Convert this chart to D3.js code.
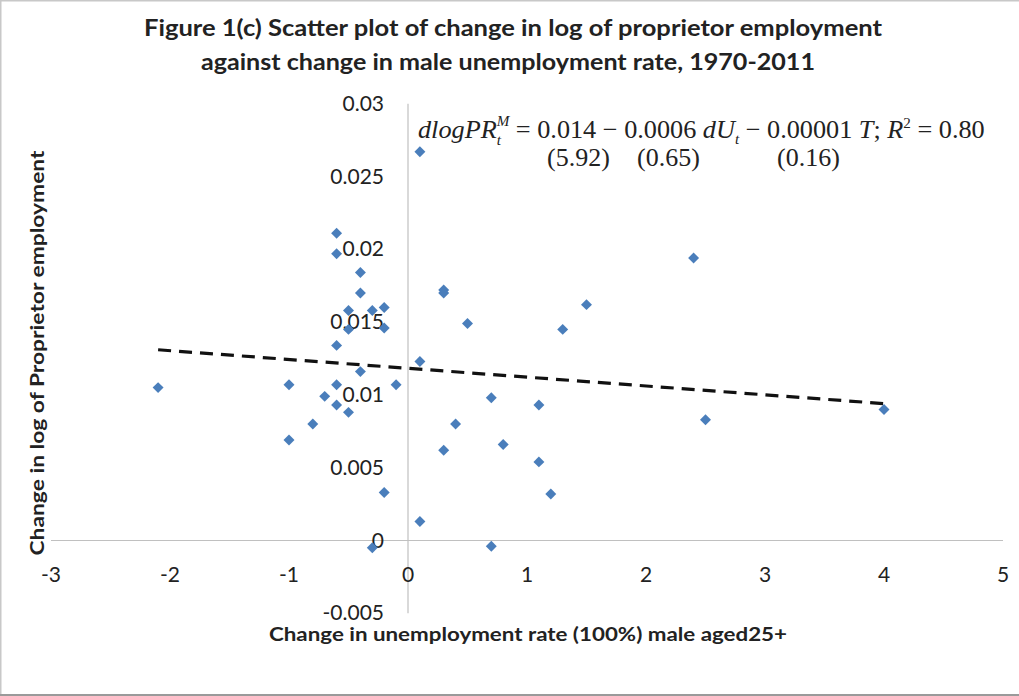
<!DOCTYPE html>
<html>
<head>
<meta charset="utf-8">
<script src="https://cdn.jsdelivr.net/npm/d3@7"></script>
<style>
  body { margin: 0; background: #fff; }
  text { font-family: Lato, "Open Sans", sans-serif; fill: #222; }
</style>
</head>
<body>
<div id="chart"></div>
<script>
var width = 1019,
    height = 696;

// change in male unemployment rate (x) vs change in log proprietor employment (y)
var dU = [-2.1, -1.0, -1.0, -0.8, -0.7, -0.6, -0.6, -0.6, -0.6, -0.6,
          -0.5, -0.5, -0.5, -0.4, -0.4, -0.4, -0.3, -0.3, -0.2, -0.2,
          -0.2, -0.1, 0.1, 0.1, 0.1, 0.3, 0.3, 0.3, 0.4, 0.5,
          0.7, 0.7, 0.8, 1.1, 1.1, 1.2, 1.3, 1.5, 2.4, 2.5, 4.0];
var dlogPR = [0.0105, 0.0107, 0.0069, 0.0080, 0.0099, 0.0211, 0.0197, 0.0134, 0.0107, 0.0093,
              0.0158, 0.0145, 0.0088, 0.0184, 0.0170, 0.0116, 0.0158, -0.0005, 0.0160, 0.0146,
              0.0033, 0.0107, 0.0267, 0.0123, 0.0013, 0.0172, 0.0170, 0.0062, 0.0080, 0.0149,
              0.0098, -0.0004, 0.0066, 0.0093, 0.0054, 0.0032, 0.0145, 0.0162, 0.0194, 0.0083, 0.0090];
// linear trend line end points
var trendX = [-2.1, 4.0];
var trendY = [0.0131, 0.0094];

var xTicks = [-3, -2, -1, 0, 1, 2, 3, 4, 5];
var yTicks = [-0.005, 0, 0.005, 0.01, 0.015, 0.02, 0.025, 0.03];
var yTickLabels = ["-0.005", "0", "0.005", "0.01", "0.015", "0.02", "0.025", "0.03"];

var x = d3.scaleLinear().domain([-3, 5]).range([51, 1003]);
var y = d3.scaleLinear().domain([-0.005, 0.03]).range([613.3, 103.7]);

var svg = d3.select("#chart").append("svg")
    .attr("width", width)
    .attr("height", height);

// chart border (top, left, bottom)
svg.append("line").attr("x1", 0).attr("x2", width).attr("y1", 0.5).attr("y2", 0.5)
    .attr("stroke", "#c8c8c8").attr("stroke-width", 2);
svg.append("line").attr("x1", 0.5).attr("x2", 0.5).attr("y1", 0).attr("y2", height)
    .attr("stroke", "#c8c8c8").attr("stroke-width", 2);
svg.append("line").attr("x1", 0).attr("x2", width).attr("y1", height - 1).attr("y2", height - 1)
    .attr("stroke", "#9a9a9a").attr("stroke-width", 2);

// axes cross at zero
svg.append("line")
    .attr("x1", x(-3)).attr("x2", x(5))
    .attr("y1", y(0)).attr("y2", y(0))
    .attr("stroke", "#c0c0c0").attr("stroke-width", 1.2);
svg.append("line")
    .attr("x1", x(0)).attr("x2", x(0))
    .attr("y1", y(0.03)).attr("y2", y(-0.005))
    .attr("stroke", "#c0c0c0").attr("stroke-width", 1.2);

svg.selectAll(".xtick")
    .data(xTicks)
    .enter().append("text")
    .attr("class", "xtick")
    .attr("x", function(d) { return x(d); })
    .attr("y", y(0) + 41)
    .attr("text-anchor", "middle")
    .style("font-size", "21px")
    .text(function(d) { return d; });

svg.selectAll(".ytick")
    .data(yTicks)
    .enter().append("text")
    .attr("class", "ytick")
    .attr("x", x(0) - 24)
    .attr("y", function(d) { return y(d) + 7; })
    .attr("text-anchor", "end")
    .style("font-size", "21px")
    .text(function(d, i) { return yTickLabels[i]; });

// trend line
svg.append("line")
    .attr("x1", x(trendX[0])).attr("y1", y(trendY[0]))
    .attr("x2", x(trendX[1])).attr("y2", y(trendY[1]))
    .attr("stroke", "#111")
    .attr("stroke-width", 3.2)
    .attr("stroke-dasharray", "13,8");

// points
var diamond = d3.symbol().type(d3.symbolSquare).size(60);
svg.selectAll(".pt")
    .data(dU)
    .enter().append("path")
    .attr("class", "pt")
    .attr("d", diamond)
    .attr("transform", function(d, i) {
        return "translate(" + x(d) + "," + y(dlogPR[i]) + ") rotate(45)";
    })
    .attr("fill", "#4a7ebb");

// titles
var title = ["Figure 1(c) Scatter plot of change in log of proprietor employment",
             "against change in male unemployment rate, 1970-2011"];
svg.append("text")
    .attr("x", 513).attr("y", 36)
    .attr("text-anchor", "middle")
    .attr("textLength", 738).attr("lengthAdjust", "spacingAndGlyphs")
    .style("font-size", "23px").style("font-weight", "bold")
    .text(title[0]);
svg.append("text")
    .attr("x", 508).attr("y", 70)
    .attr("text-anchor", "middle")
    .attr("textLength", 614).attr("lengthAdjust", "spacingAndGlyphs")
    .style("font-size", "23px").style("font-weight", "bold")
    .text(title[1]);

svg.append("text")
    .attr("transform", "translate(44,353) rotate(-90)")
    .attr("text-anchor", "middle")
    .attr("textLength", 405).attr("lengthAdjust", "spacingAndGlyphs")
    .style("font-size", "19px").style("font-weight", "bold")
    .text("Change in log of Proprietor employment");

svg.append("text")
    .attr("x", 528).attr("y", 641)
    .attr("text-anchor", "middle")
    .attr("textLength", 518).attr("lengthAdjust", "spacingAndGlyphs")
    .style("font-size", "19px").style("font-weight", "bold")
    .text("Change in unemployment rate (100%) male aged25+");

// regression equation, one text element with tspans
var serif = "'Liberation Serif', 'DejaVu Serif', serif";
var probe = svg.append("text")
    .style("font-family", serif).style("font-style", "italic").style("font-size", "15px")
    .text("M");
var mW = probe.node().getComputedTextLength();
var tW = probe.text("t").node().getComputedTextLength();
probe.remove();

var pieces = [
    { t: "dlogPR", it: true },
    { t: "M", it: true, small: true, dy: -12 },
    { t: "t", it: true, small: true, dy: 19, dx: -mW },
    { t: "\u00a0= 0.014 \u2212 0.0006 ", dy: -7, dx: mW - tW },
    { t: "dU", it: true },
    { t: "t", it: true, small: true, dy: 6 },
    { t: " \u2212 0.00001 ", dy: -6 },
    { t: "T", it: true },
    { t: "; " },
    { t: "R", it: true },
    { t: "2", small: true, dy: -10 },
    { t: " = 0.80", dy: 10 }
];
var eq = svg.append("text")
    .attr("x", 0).attr("y", 0)
    .attr("xml:space", "preserve")
    .style("font-family", serif)
    .style("font-size", "26px");
pieces.forEach(function(p) {
    eq.append("tspan")
        .attr("dx", p.dx || 0)
        .attr("dy", p.dy || 0)
        .style("font-style", p.it ? "italic" : "normal")
        .style("font-size", p.small ? "15px" : "26px")
        .text(p.t);
});
var eqW = eq.node().getBBox().width;
eq.attr("transform", "translate(418,138) scale(" + (567 / eqW) + ",1)");

var seVals = ["(5.92)", "(0.65)", "(0.16)"];
var seX = [547, 637, 777];
svg.selectAll(".se")
    .data(seVals)
    .enter().append("text")
    .attr("class", "se")
    .attr("x", function(d, i) { return seX[i]; })
    .attr("y", 166)
    .style("font-family", serif)
    .style("font-size", "26px")
    .text(function(d) { return d; });
</script>
</body>
</html>
